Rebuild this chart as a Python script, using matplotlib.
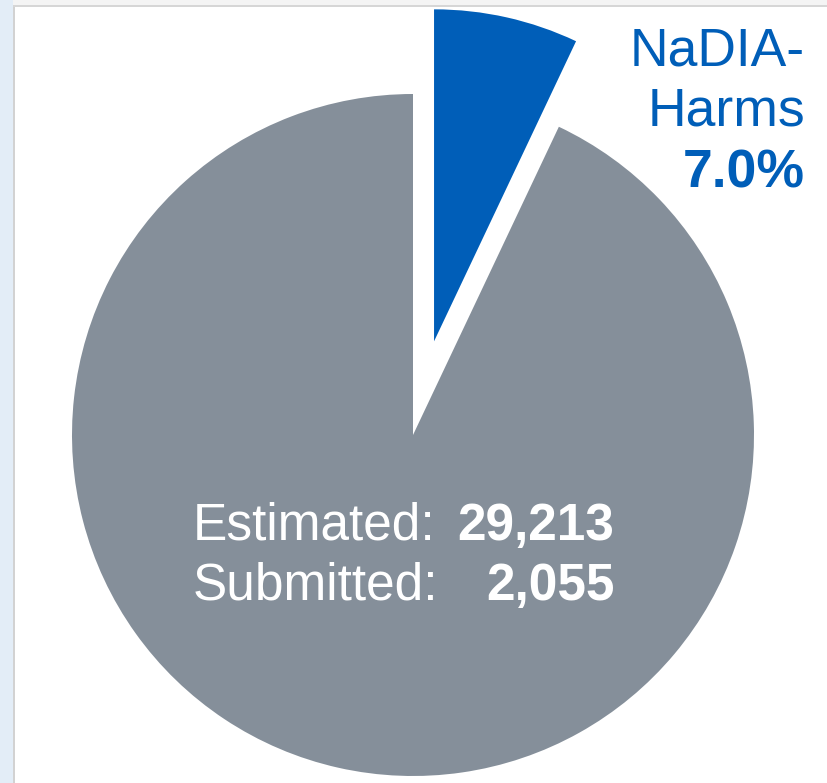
import matplotlib.pyplot as plt
from matplotlib.patches import Rectangle

plt.rcParams["font.family"] = ["Liberation Sans", "DejaVu Sans"]

# NaDIA harms submitted vs. estimated
ESTIMATED = 29213
SUBMITTED = 2055
SLICE_LABELS = ["NaDIA-\nHarms", "Other"]
SLICE_VALUES = [SUBMITTED, ESTIMATED - SUBMITTED]
SLICE_COLORS = ["#005eb8", "#858f9a"]

W, H = 827, 783


def main() -> None:
    fig = plt.figure(figsize=(W / 100, H / 100), dpi=100)
    ax = fig.add_axes([0, 0, 1, 1])

    # page chrome: blue strip on the left, grey frame lines
    ax.add_patch(Rectangle((0, 0), 13, H, color="#e3edf7", lw=0))
    ax.add_patch(Rectangle((13, 0), 2, H - 5, color="#d2d2d2", lw=0))
    ax.add_patch(Rectangle((13, H - 5), W - 13, 5, color="#f4f4f4", lw=0))
    ax.add_patch(Rectangle((13, H - 6.5), W - 13, 1.5, color="#d6d6d6", lw=0))

    wedges, _ = ax.pie(
        SLICE_VALUES,
        colors=SLICE_COLORS,
        startangle=90,
        counterclock=False,
        explode=[96, 0],
        radius=341,
        center=(413, H - 435),
        wedgeprops={"linewidth": 0},
    )
    wedges[0].set_radius(332)

    ax.set_xlim(0, W)
    ax.set_ylim(0, H)
    ax.set_aspect("auto")
    ax.axis("off")

    share = SUBMITTED / ESTIMATED * 100
    blue = SLICE_COLORS[0]
    name_lines = SLICE_LABELS[0].split("\n")
    ax.text(805, H - 65, name_lines[0], color=blue, fontsize=38.5,
            ha="right", va="baseline")
    ax.text(805, H - 125, name_lines[1], color=blue, fontsize=38.5,
            ha="right", va="baseline")
    ax.text(805, H - 187, f"{share:.1f}%", color=blue, fontsize=38.5,
            fontweight="bold", ha="right", va="baseline")

    ax.text(193, H - 540, "Estimated:", color="white", fontsize=37,
            ha="left", va="baseline")
    ax.text(614, H - 540, f"{ESTIMATED:,}", color="white", fontsize=37,
            fontweight="bold", ha="right", va="baseline")
    ax.text(193, H - 600, "Submitted:", color="white", fontsize=37,
            ha="left", va="baseline")
    ax.text(615, H - 600, f"{SUBMITTED:,}", color="white", fontsize=37,
            fontweight="bold", ha="right", va="baseline")

    fig.savefig("out.png", dpi=100)
    plt.close(fig)


if __name__ == "__main__":
    main()
